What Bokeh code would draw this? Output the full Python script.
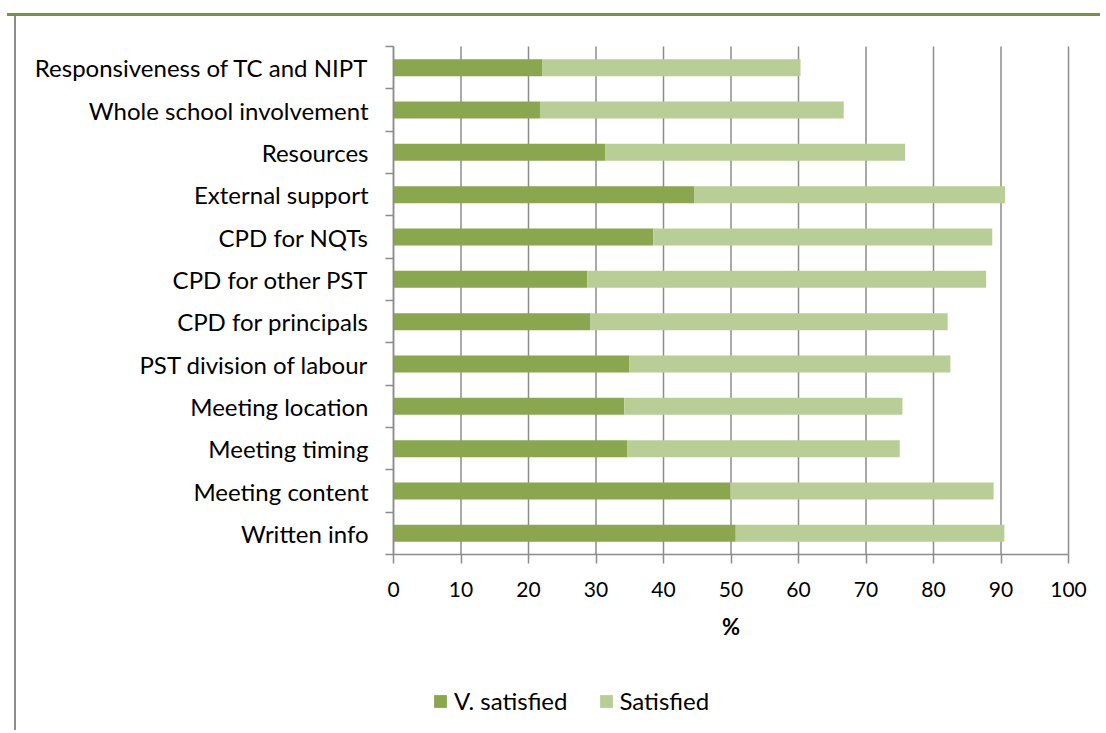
from bokeh.plotting import figure
from bokeh.models import (Range1d, FixedTicker, ColumnDataSource, Legend, LegendItem, Div)
from bokeh.layouts import column, row
from bokeh.embed import file_html
from bokeh.resources import INLINE

# ---- data (bottom to top) ----
categories = ["Written info", "Meeting content", "Meeting timing", "Meeting location",
              "PST division of labour", "CPD for principals", "CPD for other PST",
              "CPD for NQTs", "External support", "Resources",
              "Whole school involvement", "Responsiveness of TC and NIPT"]
v_satisfied = [50.7, 49.9, 34.6, 34.2, 34.9, 29.2, 28.7, 38.5, 44.6, 31.4, 21.7, 22.0]
satisfied = [39.8, 39.0, 40.4, 41.2, 47.6, 52.9, 59.1, 50.2, 46.0, 44.4, 45.0, 38.3]
series_names = ["V. satisfied", "Satisfied"]
x_ticks = [0, 10, 20, 30, 40, 50, 60, 70, 80, 90, 100]

DARK = "#8AA64E"
LIGHT = "#B9CE97"
GRID = "#8C8C8C"
FONT = "Lato"

n = len(categories)
centers = [i + 0.5 for i in range(n)]
bounds = [float(i) for i in range(n + 1)]

# ---- layout geometry (pixels on the page) ----
FIG_X, FIG_Y = 16, 16            # figure's top-left corner on the page
FIG_W, FIG_H = 1084, 714
PLOT_L, PLOT_R = 393, 1068        # pixel position of x = 0 and x = 100
PLOT_T, PLOT_B = 46, 554          # pixel position of top / bottom category bounds
px_x = (PLOT_R - PLOT_L) / 100.0
px_y = (PLOT_B - PLOT_T) / n
x_lo = (FIG_X - PLOT_L) / px_x
x_hi = 100 + (FIG_X + FIG_W - PLOT_R) / px_x
y_lo = -(FIG_Y + FIG_H - PLOT_B) / px_y
y_hi = n + (PLOT_T - FIG_Y) / px_y

source = ColumnDataSource(dict(y=centers, v=v_satisfied, s=satisfied))

p = figure(width=FIG_W, height=FIG_H, output_backend="svg", toolbar_location=None,
           x_range=Range1d(x_lo, x_hi), y_range=Range1d(y_lo, y_hi),
           min_border=0)
p.outline_line_color = None
p.background_fill_color = "white"
p.border_fill_color = "white"

# vertical gridlines limited to the category area
p.segment(x0=x_ticks, y0=[0] * len(x_ticks), x1=x_ticks, y1=[n] * len(x_ticks),
          line_color=GRID, line_width=1.5, level="underlay")

renderers = p.hbar_stack(["v", "s"], y="y", height=0.4, color=[DARK, LIGHT],
                         line_color=None, source=source)

# x axis drawn at y = 0
p.xaxis.fixed_location = 0
p.xaxis.bounds = (0, 100)
p.xaxis.ticker = FixedTicker(ticks=x_ticks)
p.xaxis.axis_line_color = GRID
p.xaxis.axis_line_width = 1.5
p.xaxis.major_tick_line_color = GRID
p.xaxis.major_tick_line_width = 1.5
p.xaxis.major_tick_in = 0
p.xaxis.major_tick_out = 9
p.xaxis.minor_tick_line_color = None
p.xaxis.major_label_text_font = FONT
p.xaxis.major_label_text_font_size = "21px"
p.xaxis.major_label_text_color = "black"
p.xaxis.major_label_standoff = 18
p.xaxis.axis_label = "%"
p.xaxis.axis_label_text_font = FONT
p.xaxis.axis_label_text_font_size = "22px"
p.xaxis.axis_label_text_font_style = "bold"
p.xaxis.axis_label_text_color = "black"
p.xaxis.axis_label_standoff = 13

# y axis drawn at x = 0
p.yaxis.fixed_location = 0
p.yaxis.bounds = (0, n)
p.yaxis.ticker = FixedTicker(ticks=centers, minor_ticks=bounds)
p.yaxis.major_label_overrides = {c: lab for c, lab in zip(centers, categories)}
p.yaxis.axis_line_color = GRID
p.yaxis.axis_line_width = 1.5
p.yaxis.major_tick_line_color = None
p.yaxis.major_tick_in = 0
p.yaxis.major_tick_out = 8
p.yaxis.minor_tick_line_color = GRID
p.yaxis.minor_tick_line_width = 1.5
p.yaxis.minor_tick_in = 0
p.yaxis.minor_tick_out = 8
p.yaxis.major_label_text_font = FONT
p.yaxis.major_label_text_font_size = "24px"
p.yaxis.major_label_text_color = "black"
p.yaxis.major_label_standoff = 17

p.xgrid.grid_line_color = None
p.ygrid.grid_line_color = None

# legend near the bottom
legend = Legend(items=[LegendItem(label=series_names[0], renderers=[renderers[0]]),
                       LegendItem(label=series_names[1], renderers=[renderers[1]])],
                orientation="horizontal", location=(432 - FIG_X, 15),
                glyph_width=16, glyph_height=16, label_standoff=6, spacing=30,
                padding=0, margin=0, border_line_color=None,
                background_fill_alpha=0,
                label_text_font=FONT, label_text_font_size="24px",
                label_text_color="black", label_height=20)
p.add_layout(legend, "center")

# chart border decorations: top green rule and left grey rule
top_rule = Div(width=1093, height=3, margin=(13, 0, 0, 7),
               styles={"background-color": "#77933C"})
left_rule = Div(width=2, height=FIG_H, margin=(0, 0, 0, 14),
                styles={"background-color": "#8C8C8C"})

layout = column(top_rule, row(left_rule, p, spacing=0), spacing=0)

open("out.html", "w").write(file_html(layout, INLINE))
